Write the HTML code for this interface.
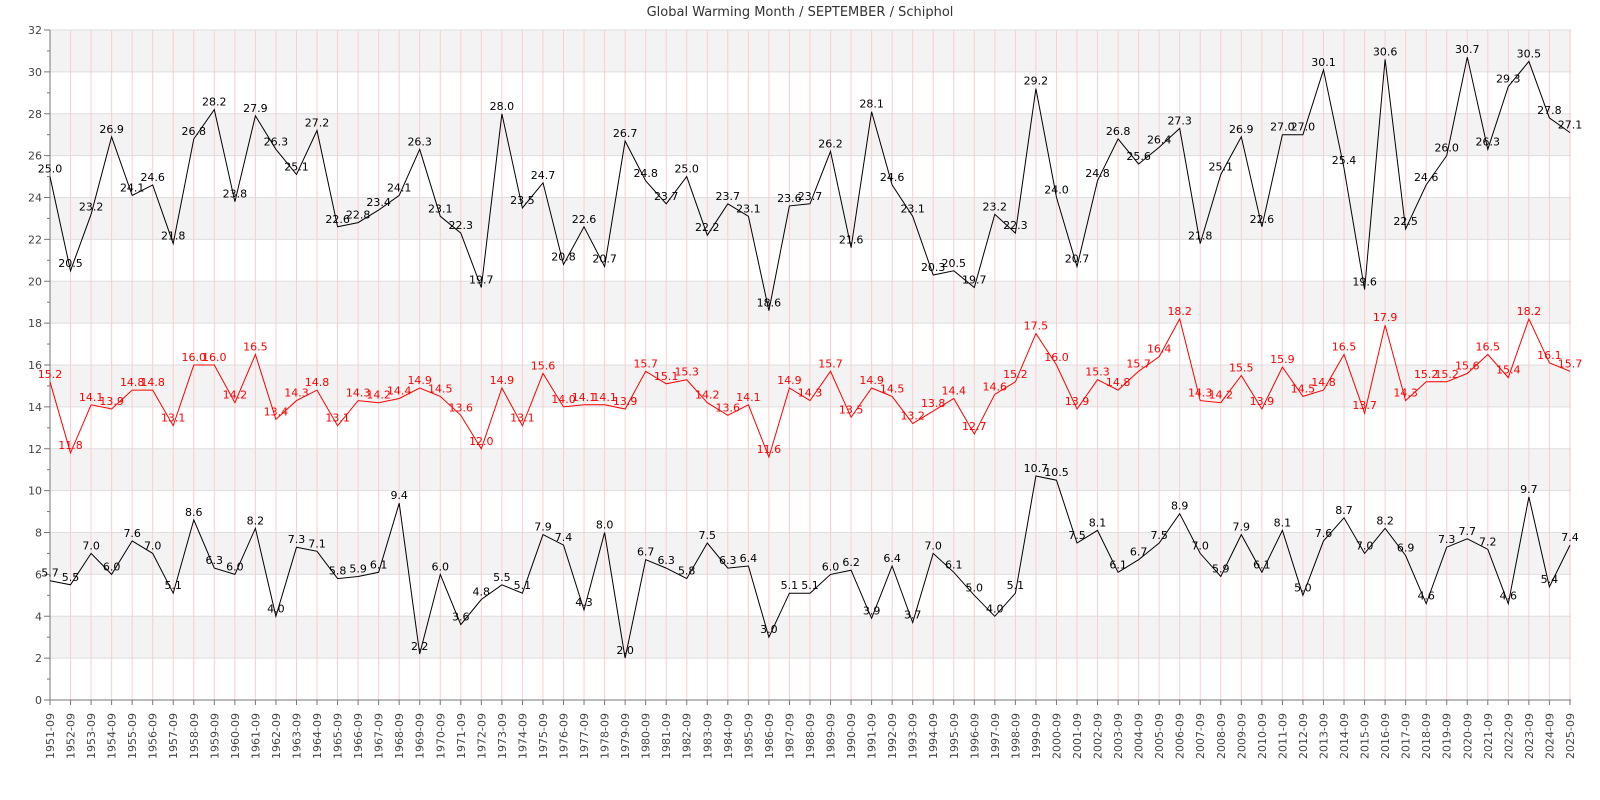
<!DOCTYPE html>
<html><head><meta charset="utf-8"><style>
html,body{margin:0;padding:0;background:#fff;width:1600px;height:800px;overflow:hidden}
svg{display:block;font-family:"DejaVu Sans","Liberation Sans",sans-serif}
</style></head><body>
<svg id="c" width="1600" height="800" xmlns="http://www.w3.org/2000/svg">
<text x="800" y="16" text-anchor="middle" font-size="13" fill="#333">Global Warming Month / SEPTEMBER / Schiphol</text>
</svg>
<script>
var maxv="25.0 20.5 23.2 26.9 24.1 24.6 21.8 26.8 28.2 23.8 27.9 26.3 25.1 27.2 22.6 22.8 23.4 24.1 26.3 23.1 22.3 19.7 28.0 23.5 24.7 20.8 22.6 20.7 26.7 24.8 23.7 25.0 22.2 23.7 23.1 18.6 23.6 23.7 26.2 21.6 28.1 24.6 23.1 20.3 20.5 19.7 23.2 22.3 29.2 24.0 20.7 24.8 26.8 25.6 26.4 27.3 21.8 25.1 26.9 22.6 27.0 27.0 30.1 25.4 19.6 30.6 22.5 24.6 26.0 30.7 26.3 29.3 30.5 27.8 27.1".split(" ");
var meanv="15.2 11.8 14.1 13.9 14.8 14.8 13.1 16.0 16.0 14.2 16.5 13.4 14.3 14.8 13.1 14.3 14.2 14.4 14.9 14.5 13.6 12.0 14.9 13.1 15.6 14.0 14.1 14.1 13.9 15.7 15.1 15.3 14.2 13.6 14.1 11.6 14.9 14.3 15.7 13.5 14.9 14.5 13.2 13.8 14.4 12.7 14.6 15.2 17.5 16.0 13.9 15.3 14.8 15.7 16.4 18.2 14.3 14.2 15.5 13.9 15.9 14.5 14.8 16.5 13.7 17.9 14.3 15.2 15.2 15.6 16.5 15.4 18.2 16.1 15.7".split(" ");
var minv="5.7 5.5 7.0 6.0 7.6 7.0 5.1 8.6 6.3 6.0 8.2 4.0 7.3 7.1 5.8 5.9 6.1 9.4 2.2 6.0 3.6 4.8 5.5 5.1 7.9 7.4 4.3 8.0 2.0 6.7 6.3 5.8 7.5 6.3 6.4 3.0 5.1 5.1 6.0 6.2 3.9 6.4 3.7 7.0 6.1 5.0 4.0 5.1 10.7 10.5 7.5 8.1 6.1 6.7 7.5 8.9 7.0 5.9 7.9 6.1 8.1 5.0 7.6 8.7 7.0 8.2 6.9 4.6 7.3 7.7 7.2 4.6 9.7 5.4 7.4".split(" ");
var X0=50,X1=1571,DX=20.54,Y0=700,K=670/32;
function X(i){return X0+i*DX}function Y(v){return Y0-v*K}
var s='';
for(var v=2;v<32;v+=4){s+='<rect x="'+X0+'" y="'+Y(v+2)+'" width="'+(X1-X0)+'" height="'+(2*K)+'" fill="#f3f3f3"/>';}
for(var v=2;v<=32;v+=2){s+='<line x1="'+X0+'" x2="'+X1+'" y1="'+Y(v)+'" y2="'+Y(v)+'" stroke="#dedede"/>';}
for(var i=1;i<75;i++){s+='<line x1="'+X(i)+'" x2="'+X(i)+'" y1="'+Y(32)+'" y2="'+Y0+'" stroke="#ffcccc"/>';}
s+='<line x1="'+X0+'" x2="'+X0+'" y1="'+Y(32)+'" y2="'+Y0+'" stroke="#777"/>';
s+='<line x1="'+X0+'" x2="'+X1+'" y1="'+Y0+'" y2="'+Y0+'" stroke="#777"/>';
for(var v=0;v<=32;v++){var y=Y(v);if(v%2==0){s+='<line x1="'+(X0-6)+'" x2="'+X0+'" y1="'+y+'" y2="'+y+'" stroke="#777"/><text x="'+(X0-8)+'" y="'+(y+4)+'" font-size="11" text-anchor="end" fill="#444">'+v+'</text>';}else{s+='<line x1="'+(X0-3)+'" x2="'+X0+'" y1="'+y+'" y2="'+y+'" stroke="#777"/>';}}
for(var i=0;i<75;i++){var x=X(i);s+='<line x1="'+x+'" x2="'+x+'" y1="'+Y0+'" y2="'+(Y0+5)+'" stroke="#777"/><text transform="translate('+(x+4)+','+(Y0+13)+') rotate(-90)" font-size="11" text-anchor="end" fill="#444">'+(1951+i)+'-09</text>';}
function series(d,c){var p='';for(var i=0;i<d.length;i++){p+=(i?'L':'M')+X(i).toFixed(1)+' '+Y(+d[i]).toFixed(1);}
s+='<path d="'+p+'" fill="none" stroke="'+c+'" stroke-width="1"/>';
for(var i=0;i<d.length;i++){s+='<text x="'+X(i).toFixed(1)+'" y="'+(Y(+d[i])-4).toFixed(1)+'" font-size="11" text-anchor="middle" fill="'+c+'">'+d[i]+'</text>';}}
series(maxv,'#000');series(meanv,'#f00');series(minv,'#000');
document.getElementById('c').insertAdjacentHTML('beforeend',s);
</script>
</body></html>
